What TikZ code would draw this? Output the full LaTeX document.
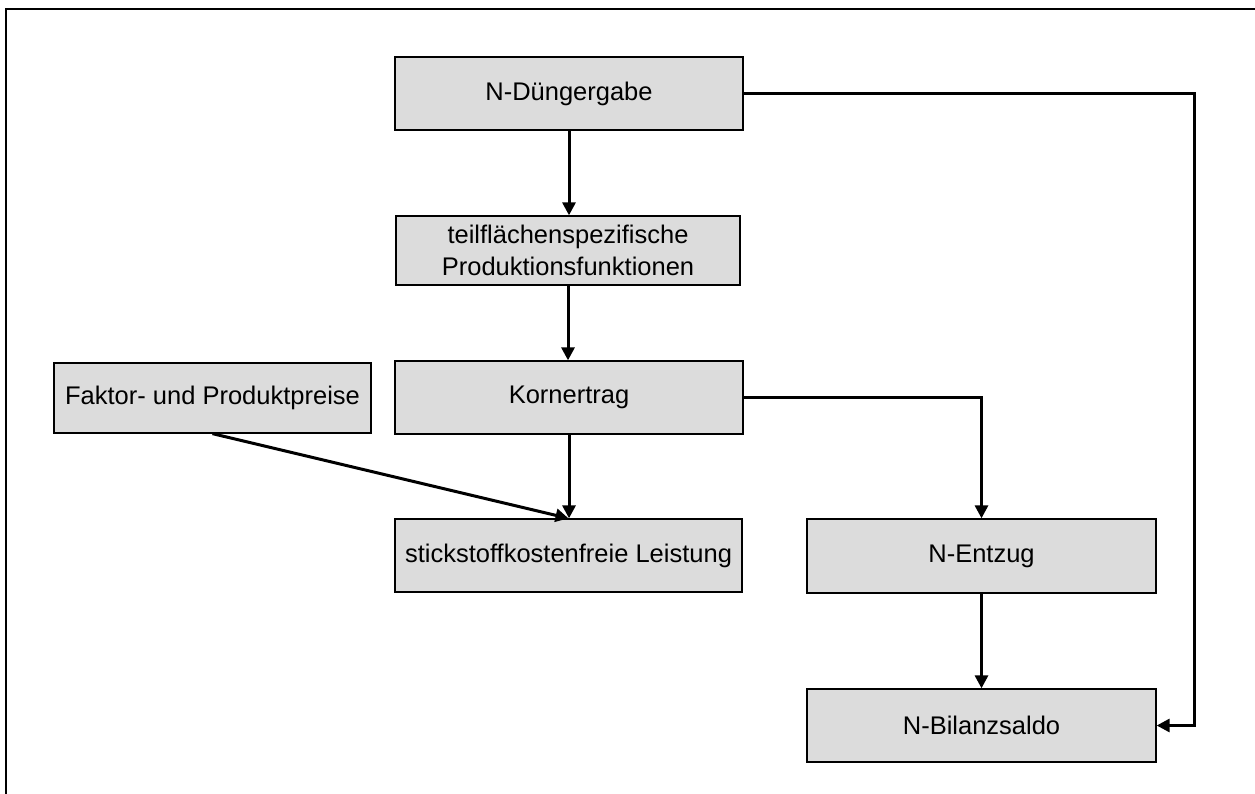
\documentclass[tikz,border=0pt]{standalone}
\usepackage{fontspec}
\setmainfont{Liberation Sans}
\usetikzlibrary{arrows.meta}
\definecolor{boxgray}{HTML}{DCDCDC}
\tikzset{
  box/.style={draw=black, line width=1.3pt, fill=boxgray, inner sep=0pt,
    align=center, anchor=center,
    font=\fontsize{25.5}{32}\selectfont},
  flow/.style={line width=3pt, line join=miter,
    -{Triangle[length=13pt,width=13pt]}},
  frame/.style={line width=2pt, line join=miter}
}
\begin{document}
\begin{tikzpicture}[x=1pt, y=-1pt]
  \useasboundingbox (0,0) rectangle (1255,794);
  % outer frame (left and top edges)
  \draw[frame] (6,794) -- (6,9) -- (1255,9);

  % boxes
  \node[box, minimum width=348pt, minimum height=73pt] (dung)  at (569,93.5)  {N-Düngergabe};
  \node[box, minimum width=344pt, minimum height=69pt] (teil)  at (568,250.5) {teilflächenspezifische\\Produktionsfunktionen};
  \node[box, minimum width=348pt, minimum height=73pt] (korn)  at (569,397.5) {Kornertrag};
  \node[box, minimum width=317pt, minimum height=70pt] (fak)   at (212.5,398) {Faktor- und Produktpreise};
  \node[box, minimum width=347pt, minimum height=73pt] (stick) at (568.5,555.5) {stickstoffkostenfreie Leistung};
  \node[box, minimum width=349pt, minimum height=74pt] (entz)  at (981.5,556) {N-Entzug};
  \node[box, minimum width=349pt, minimum height=73pt] (bil)   at (981.5,725.5) {N-Bilanzsaldo};

  % side rail on the right
  \coordinate (rail) at (1194,0);

  % connectors
  \draw[flow] (dung.south) -- (dung.south |- teil.north);
  \draw[flow] (teil.south) -- (teil.south |- korn.north);
  \draw[flow] (korn.south) -- (korn.south |- stick.north);
  \draw[flow] (fak.south) -- (stick.north);
  \draw[flow] (korn.east) -| (entz.north);
  \draw[flow] (entz.south) -- (bil.north);
  \draw[flow] (dung.east) -- (dung.east -| rail) -- (rail |- bil.east) -- (bil.east);
\end{tikzpicture}
\end{document}
